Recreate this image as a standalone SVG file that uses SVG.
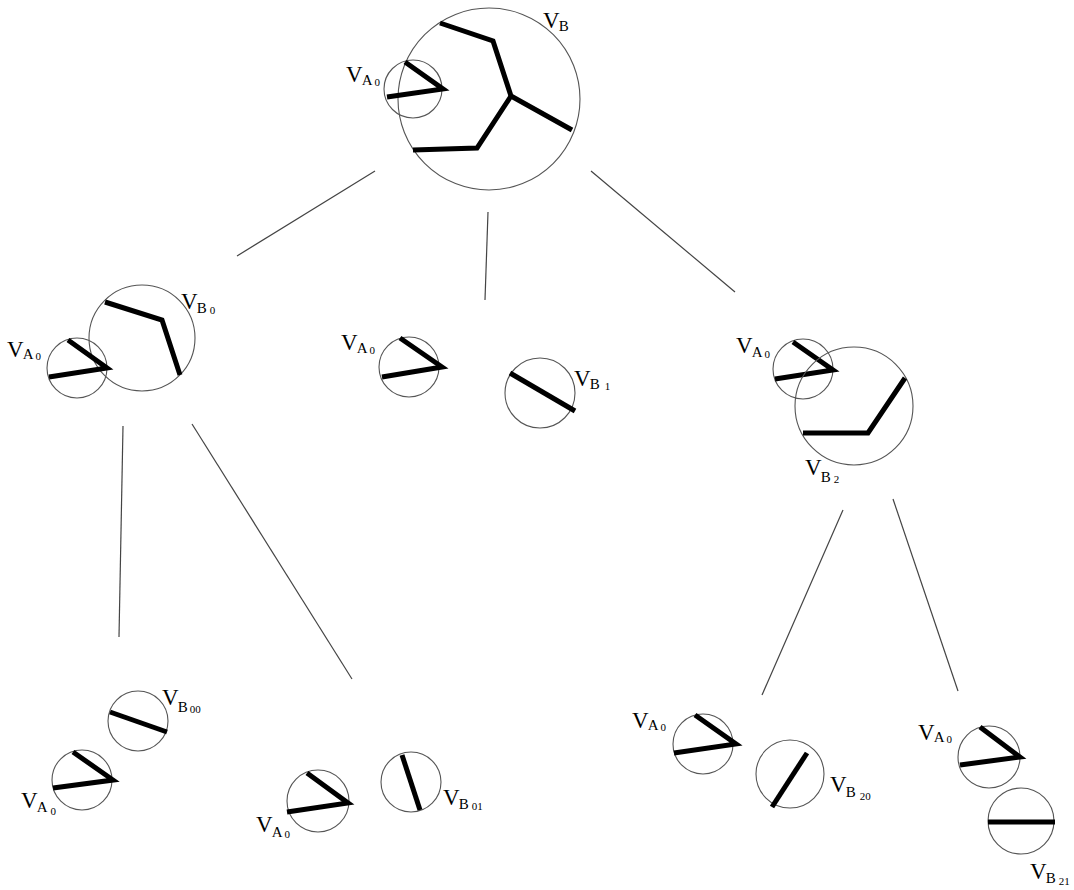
<svg xmlns="http://www.w3.org/2000/svg" width="1074" height="890" viewBox="0 0 1074 890">
<style>
.c{fill:none;stroke:#555;stroke-width:1.1}
.t{fill:none;stroke:#000;stroke-width:5;stroke-linejoin:miter;stroke-linecap:butt}
.e{stroke:#444;stroke-width:1.2;fill:none}
text{font-family:"Liberation Serif","Times New Roman",serif;fill:#000}
.v{font-size:23px}
.s{font-size:15px}
.d{font-size:11px}
</style>
<rect width="1074" height="890" fill="#fff"/>
<g id="connectors">
<line class="e" x1="375" y1="171" x2="237" y2="256"/>
<line class="e" x1="488" y1="212" x2="485" y2="300"/>
<line class="e" x1="591" y1="171" x2="735" y2="292"/>
<line class="e" x1="123" y1="426" x2="119" y2="637"/>
<line class="e" x1="192" y1="424" x2="352" y2="679"/>
<line class="e" x1="843" y1="510" x2="762" y2="695"/>
<line class="e" x1="893" y1="499" x2="958" y2="691"/>
</g>
<g id="root">
<circle class="c" cx="489" cy="99" r="91"/>
<polyline class="t" points="440,23 493,41 511,96 572,130"/>
<polyline class="t" points="511,96 477,148 413,150"/>
<circle class="c" cx="413" cy="89" r="29"/>
<polyline class="t" points="405,62 443,89 387,97"/>
<text class="v" x="543" y="28">V<tspan class="s" dx="-1" dy="3">B</tspan></text>
<text class="v" x="346" y="82">V<tspan class="s" dx="-1" dy="3">A</tspan><tspan class="d" dx="2" dy="1">0</tspan></text>
</g>
<g id="node-b0">
<circle class="c" cx="142" cy="338" r="53"/>
<polyline class="t" points="105,302 162,320 180,375"/>
<circle class="c" cx="77" cy="368" r="30"/>
<polyline class="t" points="68,340 107,368 49,377"/>
<text class="v" x="181" y="309">V<tspan class="s" dx="-1" dy="4">B</tspan><tspan class="d" dx="3" dy="1">0</tspan></text>
<text class="v" x="7" y="357">V<tspan class="s" dx="-1" dy="2">A</tspan><tspan class="d" dx="2" dy="1">0</tspan></text>
</g>
<g id="node-b1">
<circle class="c" cx="409" cy="367" r="30"/>
<polyline class="t" points="400,338 442,367 382,377"/>
<circle class="c" cx="540" cy="393" r="35"/>
<line class="t" x1="510" y1="373" x2="575" y2="411"/>
<text class="v" x="341" y="350">V<tspan class="s" dx="-1" dy="3">A</tspan><tspan class="d" dx="2" dy="1">0</tspan></text>
<text class="v" x="574" y="386">V<tspan class="s" dx="-1" dy="3">B</tspan><tspan class="d" dx="5" dy="1">1</tspan></text>
</g>
<g id="node-b2">
<circle class="c" cx="803" cy="369" r="30"/>
<polyline class="t" points="793,342 833,370 775,379"/>
<circle class="c" cx="854" cy="406" r="59"/>
<polyline class="t" points="905,378 868,433 803,433"/>
<text class="v" x="736" y="353">V<tspan class="s" dx="-1" dy="4">A</tspan><tspan class="d" dx="2" dy="1">0</tspan></text>
<text class="v" x="805" y="475">V<tspan class="s" dx="-1" dy="7">B</tspan><tspan class="d" dx="3" dy="1">2</tspan></text>
</g>
<g id="node-b00">
<circle class="c" cx="138" cy="721" r="30"/>
<line class="t" x1="110" y1="712" x2="167" y2="732"/>
<circle class="c" cx="82" cy="780" r="30"/>
<polyline class="t" points="73,752 113,780 53,788"/>
<text class="v" x="162" y="705">V<tspan class="s" dx="-1" dy="7">B</tspan><tspan class="d" dx="2" dy="1">00</tspan></text>
<text class="v" x="21" y="808">V<tspan class="s" dx="-1" dy="4">A</tspan><tspan class="d" dx="3" dy="3">0</tspan></text>
</g>
<g id="node-b01">
<circle class="c" cx="318" cy="801" r="31"/>
<polyline class="t" points="307,773 348,803 287,812"/>
<circle class="c" cx="411" cy="782" r="30"/>
<line class="t" x1="402" y1="755" x2="420" y2="810"/>
<text class="v" x="256" y="832">V<tspan class="s" dx="-1" dy="5">A</tspan><tspan class="d" dx="2" dy="1">0</tspan></text>
<text class="v" x="443" y="805">V<tspan class="s" dx="-1" dy="4">B</tspan><tspan class="d" dx="3" dy="1">01</tspan></text>
</g>
<g id="node-b20">
<circle class="c" cx="703" cy="744" r="30"/>
<polyline class="t" points="695,715 736,744 674,753"/>
<circle class="c" cx="790" cy="774" r="34"/>
<line class="t" x1="807" y1="753" x2="772" y2="807"/>
<text class="v" x="632" y="728">V<tspan class="s" dx="-1" dy="2">A</tspan><tspan class="d" dx="2" dy="1">0</tspan></text>
<text class="v" x="830" y="792">V<tspan class="s" dx="-1" dy="5">B</tspan><tspan class="d" dx="4" dy="3">20</tspan></text>
</g>
<g id="node-b21">
<circle class="c" cx="989" cy="757" r="31"/>
<polyline class="t" points="980,727 1020,757 960,765"/>
<circle class="c" cx="1021" cy="821" r="33"/>
<line class="t" x1="988" y1="822" x2="1055" y2="822"/>
<text class="v" x="918" y="740">V<tspan class="s" dx="-1" dy="2">A</tspan><tspan class="d" dx="2" dy="1">0</tspan></text>
<text class="v" x="1030" y="879">V<tspan class="s" dx="-1" dy="4">B</tspan><tspan class="d" dx="3" dy="2">21</tspan></text>
</g>
</svg>
